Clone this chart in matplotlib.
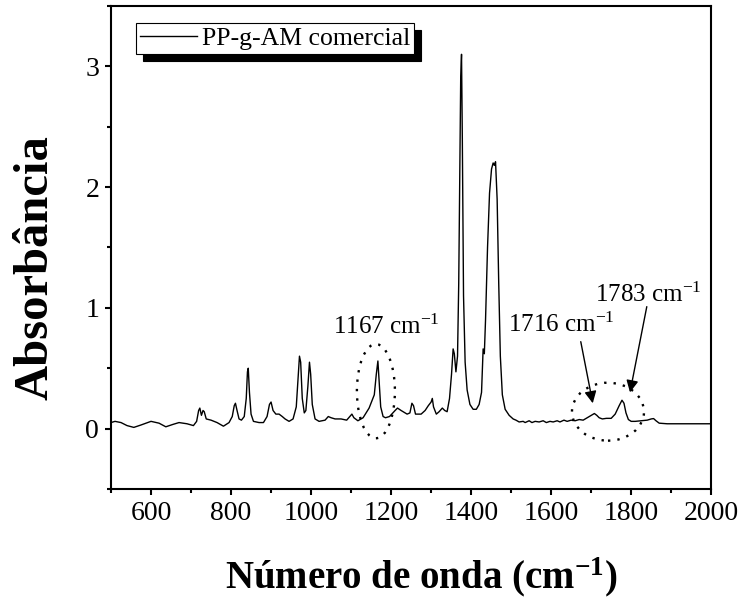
import numpy as np
import matplotlib
matplotlib.use("Agg")
import matplotlib.pyplot as plt
from matplotlib.patches import Ellipse

plt.rcParams['font.family'] = ['Liberation Serif', 'DejaVu Serif']
plt.rcParams['mathtext.fontset'] = 'custom'
plt.rcParams['mathtext.rm'] = 'Liberation Serif'
plt.rcParams['mathtext.it'] = 'Liberation Serif:italic'
plt.rcParams['mathtext.bf'] = 'Liberation Serif:bold'

# spectrum (wavenumber cm-1, absorbance)
wavenumber = [
    500, 510, 525, 540, 557, 575, 600, 620, 637, 655, 670, 690, 706, 714, 719,
    722, 726, 730, 733, 738, 750, 765, 781, 795, 803, 808, 811, 815, 820, 826,
    833, 838, 841, 843, 846, 850, 856, 870, 881, 890, 896, 900, 905, 912, 920,
    928, 935, 945, 955, 963, 968, 971, 974, 978, 983, 987, 992, 996, 999, 1003,
    1010, 1020, 1035, 1043, 1050, 1060, 1075, 1089, 1097, 1102, 1107, 1117,
    1130, 1145, 1152, 1158, 1163, 1167, 1170, 1174, 1180, 1186, 1196, 1210,
    1216, 1225, 1240, 1247, 1252, 1256, 1261, 1275, 1285, 1293, 1300, 1303,
    1306, 1313, 1320, 1328, 1334, 1340, 1346, 1351, 1355, 1358, 1362, 1366,
    1369, 1372, 1374, 1376, 1378, 1381, 1385, 1390, 1397, 1405, 1413, 1420,
    1426, 1430, 1433, 1436, 1441, 1446, 1451, 1455, 1458, 1461, 1465, 1469,
    1473, 1478, 1485, 1495, 1505, 1512, 1520, 1530, 1535, 1545, 1552, 1560,
    1570, 1580, 1588, 1597, 1605, 1615, 1622, 1632, 1640, 1650, 1660, 1670,
    1680, 1690, 1700, 1708, 1714, 1720, 1728, 1738, 1750, 1760, 1770, 1777,
    1782, 1787, 1793, 1800, 1810, 1825, 1840, 1850, 1856, 1862, 1870, 1890,
    1920, 1960, 2000,
]
absorbance = [
    0.05, 0.06, 0.05, 0.025, 0.01, 0.03, 0.06, 0.045, 0.015, 0.035, 0.05, 0.04,
    0.025, 0.06, 0.15, 0.17, 0.11, 0.15, 0.14, 0.08, 0.07, 0.05, 0.02, 0.05,
    0.10, 0.19, 0.21, 0.15, 0.08, 0.07, 0.10, 0.25, 0.47, 0.50, 0.30, 0.12,
    0.06, 0.05, 0.05, 0.10, 0.20, 0.22, 0.15, 0.12, 0.12, 0.10, 0.08, 0.06,
    0.08, 0.18, 0.45, 0.60, 0.55, 0.25, 0.13, 0.15, 0.35, 0.55, 0.45, 0.20,
    0.08, 0.06, 0.07, 0.10, 0.09, 0.08, 0.08, 0.07, 0.10, 0.12, 0.09, 0.065,
    0.09, 0.17, 0.23, 0.28, 0.45, 0.56, 0.40, 0.18, 0.10, 0.09, 0.10, 0.15,
    0.17, 0.15, 0.12, 0.13, 0.21, 0.19, 0.12, 0.12, 0.15, 0.19, 0.22, 0.25,
    0.18, 0.12, 0.14, 0.17, 0.15, 0.14, 0.25, 0.45, 0.66, 0.62, 0.47, 0.60,
    1.20, 2.20, 2.92, 3.10, 2.40, 1.10, 0.55, 0.32, 0.20, 0.16, 0.16, 0.20,
    0.30, 0.66, 0.62, 0.90, 1.50, 1.95, 2.15, 2.20, 2.18, 2.21, 1.90, 1.20,
    0.60, 0.28, 0.16, 0.11, 0.08, 0.07, 0.055, 0.06, 0.05, 0.065, 0.05, 0.06,
    0.055, 0.065, 0.05, 0.06, 0.055, 0.065, 0.055, 0.07, 0.06, 0.07, 0.065,
    0.075, 0.07, 0.09, 0.11, 0.125, 0.11, 0.09, 0.08, 0.085, 0.085, 0.12,
    0.19, 0.235, 0.21, 0.13, 0.075, 0.06, 0.06, 0.065, 0.07, 0.08, 0.083,
    0.065, 0.045, 0.04, 0.04, 0.04, 0.04,
]

fig = plt.figure(figsize=(7.41, 6.01), dpi=100)
ax = fig.add_axes([0.1498, 0.1864, 0.81, 0.8036])

ax.plot(wavenumber, absorbance, color='black', lw=1.0, label='PP-g-AM comercial')

ax.set_xlim(500, 2000)
ax.set_ylim(-0.5, 3.5)
ax.set_xticks(np.arange(600, 2001, 200))
ax.set_xticks(np.arange(500, 2001, 100), minor=True)
ax.set_yticks([0, 1, 2, 3])
ax.set_yticks(np.arange(-0.5, 3.51, 0.5), minor=True)
ax.tick_params(which='both', direction='out', width=1.5, labelsize=20, pad=4)
ax.tick_params(which='major', length=4.5)
ax.tick_params(which='minor', length=3)
for s in ax.spines.values():
    s.set_linewidth(1.5)

# dotted ellipses round the bands
ax.add_patch(Ellipse((1162, 0.31), 95, 0.78, fill=False, ec='black', lw=1.7, ls=(0, (1, 3))))
ax.add_patch(Ellipse((1742, 0.14), 180, 0.48, fill=False, ec='black', lw=1.7, ls=(0, (1, 3))))

ax.text(1189, 0.78, r'1167 cm$^{-1}$', fontsize=18, ha='center', va='baseline')
ax.text(1625, 0.80, r'1716 cm$^{-1}$', fontsize=18, ha='center', va='baseline')
ax.text(1842, 1.05, r'1783 cm$^{-1}$', fontsize=18, ha='center', va='baseline')

arrow = dict(arrowstyle='-|>', color='black', lw=1.0, mutation_scale=18, shrinkA=0, shrinkB=0)
ax.annotate('', xy=(1704, 0.21), xytext=(1674, 0.72), arrowprops=arrow)
ax.annotate('', xy=(1797, 0.30), xytext=(1839, 1.01), arrowprops=arrow)

leg = ax.legend(loc='upper left', bbox_to_anchor=(0.042, 0.965), borderaxespad=0,
                fontsize=18.5, fancybox=False, frameon=True, framealpha=1,
                edgecolor='black', handlelength=2.2, handletextpad=0.2,
                borderpad=0.15,
                shadow={'color': 'black', 'alpha': 1, 'ox': 5, 'oy': -5})
leg.get_frame().set_linewidth(0.8)

fig.text(36 / 741, 1 - 268 / 601, 'Absorbância', rotation=90, fontsize=35,
         fontweight='bold', ha='center', va='center')
fig.text(421 / 741, 1 - 577 / 601, r'Número de onda (cm$^{\mathbf{-1}}$)', fontsize=28,
         fontweight='bold', ha='center', va='center')

fig.savefig('out.png', dpi=100)
